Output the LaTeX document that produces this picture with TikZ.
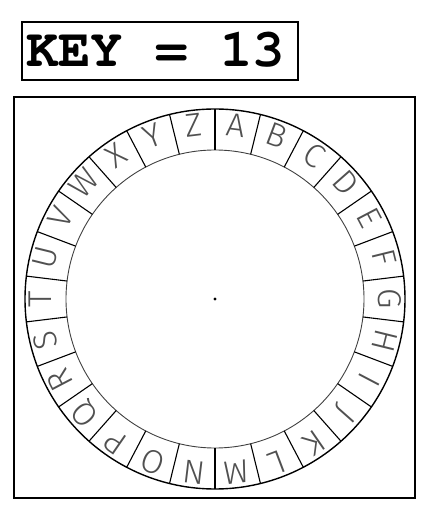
\documentclass[tikz,border=0pt]{standalone}
\usepackage{fontspec}
\newfontfamily\keyfont{TeX Gyre Cursor}
\newfontfamily\wheelfont{Fira Sans Light}
\definecolor{lettergray}{HTML}{505050}
\definecolor{ringgray}{HTML}{404040}
\tikzset{
  frame/.style={draw, line width=2pt},
  ringline/.style={line width=1.1pt, black},
  innerline/.style={line width=0.9pt, ringgray},
  wheelletter/.style={inner sep=0pt, text=lettergray, font=\wheelfont\fontsize{33}{33}\selectfont, text height=0.69em, text depth=0pt}
}
\begin{document}
\begin{tikzpicture}[x=1pt,y=1pt]
\useasboundingbox (0,0) rectangle (428,512);
\coordinate (c) at (215,213);
\draw[frame] (14,14) rectangle (415,415);
\node[draw, line width=1.8pt, minimum width=276pt, minimum height=58pt, inner sep=0pt] (keybox) at (160,461) {};
\node[anchor=base west, inner sep=0pt, font=\keyfont\bfseries\fontsize{54}{54}\selectfont] (key) at (26,445.5) {KEY = 13};
\draw[line width=1.4pt] (c) circle (190);
\draw[innerline] (c) circle (149);
\foreach \i in {0,...,25}{
  \pgfmathsetmacro{\ang}{90-\i*360/26}
  \draw[ringline] ([shift={(\ang:149)}]c) -- ([shift={(\ang:190)}]c);
}
\foreach \l [count=\i from 0] in {A,B,C,D,E,F,G,H,I,J,K,L,M,N,O,P,Q,R,S,T,U,V,W,X,Y,Z}{
  \pgfmathsetmacro{\ang}{90-(\i+0.5)*360/26}
  \pgfmathsetmacro{\rot}{\ang-90}
  \node[wheelletter, rotate=\rot] (L\l) at ([shift={(\ang:167)}]c) {\l};
}
\fill (c) circle (1.6);
\end{tikzpicture}
\end{document}
